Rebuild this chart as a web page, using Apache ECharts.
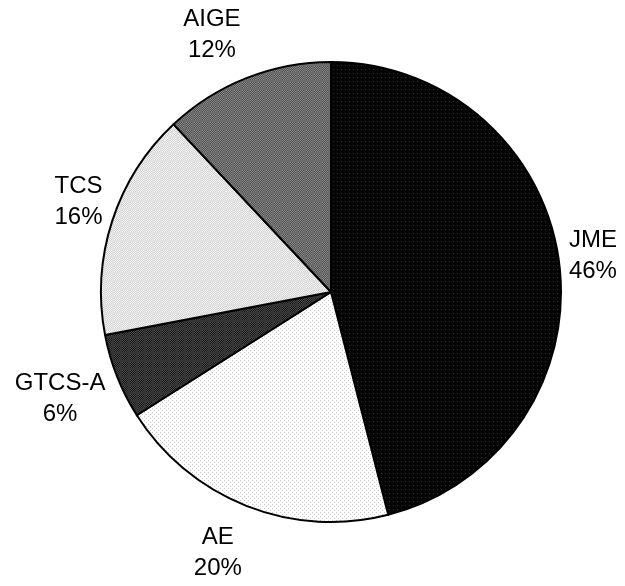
<!DOCTYPE html>
<html>
<head>
<meta charset="utf-8">
<script src="https://cdn.jsdelivr.net/npm/echarts@6/dist/echarts.min.js"></script>
<style>
  html, body { margin: 0; padding: 0; background: #ffffff; }
  #chart { width: 625px; height: 586px; }
</style>
</head>
<body>
<div id="chart"></div>
<script>
// Share of papers by venue (percent)
const categories = ['JME', 'AE', 'GTCS-A', 'TCS', 'AIGE'];
const shares = [46, 20, 6, 16, 12];

// Pie geometry (pixels)
const CX = 331, CY = 292, R = 230;

// Label placement around the pie: [angle clockwise from 12 o'clock in degrees, distance from centre]
const labelSpots = [
  [81.7, 264.7],
  [203.6, 282.6],
  [248.8, 290.6],
  [290.0, 268.7],
  [335.3, 285.0]
];

// Small bitmap tiles that give each slice its print-style texture
function tile(size, paint) {
  const c = document.createElement('canvas');
  c.width = c.height = size;
  const g = c.getContext('2d');
  for (let y = 0; y < size; y++) {
    for (let x = 0; x < size; x++) {
      g.fillStyle = paint(x, y);
      g.fillRect(x, y, 1, 1);
    }
  }
  return c;
}
const checker = (line, a, b) => (x, y) =>
  (x % 8 < 2 || y % 8 < 2) ? line : ((x + y) % 2 ? a : b);

const textures = [
  tile(4, (x, y) => (x === 1 && y === 1) ? '#2e2e2e' : '#050505'),
  tile(4, (x, y) => ((x === 0 && y === 0) || (x === 2 && y === 2)) ? '#c8c8c8' : '#ffffff'),
  tile(8, checker('#343434', '#141414', '#4c4c4c')),
  tile(8, checker('#e2e2e2', '#ffffff', '#cacaca')),
  tile(8, checker('#6c6c6c', '#4a4a4a', '#8e8e8e'))
];

const chart = echarts.init(document.getElementById('chart'), null, { renderer: 'canvas' });

chart.setOption({
  animation: false,
  backgroundColor: '#ffffff',
  series: [{
    type: 'pie',
    center: [CX, CY],
    radius: R,
    startAngle: 90,
    clockwise: true,
    avoidLabelOverlap: false,
    emphasis: { disabled: true },
    itemStyle: { borderColor: '#000000', borderWidth: 2 },
    label: {
      show: true,
      position: 'outside',
      formatter: '{b}\n{c}%',
      fontFamily: 'Liberation Sans, Arial, sans-serif',
      fontSize: 24,
      lineHeight: 31,
      color: '#000000',
      align: 'center'
    },
    labelLine: { show: false },
    labelLayout: function (p) {
      const s = labelSpots[p.dataIndex];
      const a = s[0] * Math.PI / 180;
      return {
        x: CX + s[1] * Math.sin(a),
        y: CY - s[1] * Math.cos(a) + 2,
        align: 'center',
        verticalAlign: 'middle'
      };
    },
    data: categories.map((name, i) => ({
      name: name,
      value: shares[i],
      itemStyle: { color: { image: textures[i], repeat: 'repeat' } }
    }))
  }]
});
</script>
</body>
</html>
